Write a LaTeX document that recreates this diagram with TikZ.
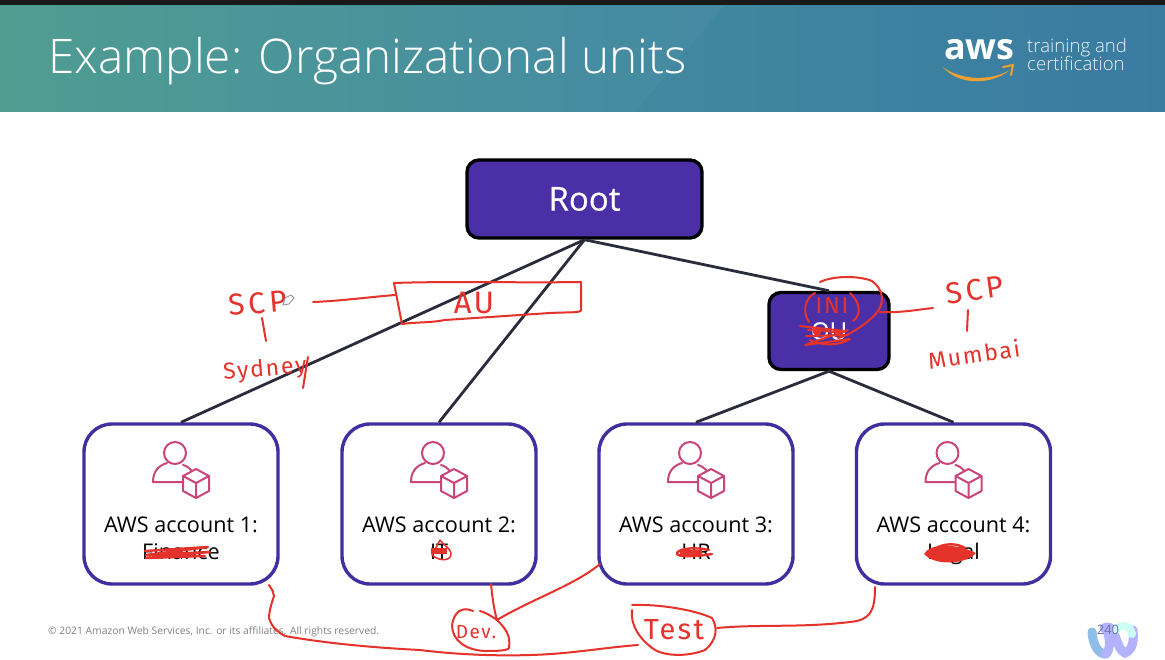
\documentclass[tikz,border=0pt]{standalone}
\usepackage{fontspec}
\setmainfont{Open Sans}
\newfontfamily\lightfont{Open Sans Light}
\newfontfamily\handfont[LetterSpace=8]{Fira Sans}
\usetikzlibrary{calc}
\definecolor{hdrL}{HTML}{4A9A8E}
\definecolor{hdrM}{HTML}{418A9E}
\definecolor{hdrR}{HTML}{3A7BA2}
\definecolor{rootfill}{HTML}{4A2FA6}
\definecolor{acct}{HTML}{3F30A0}
\definecolor{link}{HTML}{2A2C3C}
\definecolor{ink}{HTML}{E5322B}
\definecolor{icon}{HTML}{C9457A}
\definecolor{awsorange}{HTML}{F0A030}
\newcommand{\fs}[1]{\fontsize{#1}{#1}\selectfont}
\tikzset{
  darkbox/.style={draw=black,line width=3.4pt,fill=rootfill,rounded corners=12pt,text=white,inner sep=0pt},
  acctbox/.style={draw=acct,line width=3.4pt,fill=white,rounded corners=28pt,minimum width=194pt,minimum height=160pt,inner sep=0pt},
  linkline/.style={draw=link,line width=2.8pt},
  pen/.style={draw=ink,line width=2pt,line cap=round,line join=round},
  scrib/.style={draw=ink,line width=2.4pt,line cap=round,line join=round},
  hand/.style={text=ink,font=\handfont\fs{#1},inner sep=0pt},
  acctlabel/.style={font=\fs{21.6},text=black,inner sep=0pt},
  iconline/.style={draw=icon,line width=2pt,line join=round,line cap=round}
}
\newcommand{\acctIcon}[2]{%
  \begin{scope}[shift={(#1,#2)}]
    \draw[iconline] (-6,-80) circle[radius=11pt];
    \draw[iconline] (2,-68) .. controls (6,-67) and (8,-65) .. (11,-62);
    \draw[iconline] (1,-51) -- (-28,-51) .. controls (-28,-60) and (-24,-67) .. (-14,-70);
    \draw[iconline] (15,-64) -- (28,-57) -- (28,-42) -- (15,-35) -- (2,-42) -- (2,-57) -- cycle;
    \draw[iconline] (2,-57) -- (15,-50) -- (28,-57) (15,-50) -- (15,-35);
  \end{scope}}
\begin{document}
\begin{tikzpicture}[x=1pt,y=-1pt]
\useasboundingbox (0,0) rectangle (1165,660);
\fill[white] (0,0) rectangle (1165,660);
% header
\fill[black!90] (0,0) rectangle (1165,8);
\shade[left color=hdrL,right color=hdrR,middle color=hdrM] (0,6) rectangle (1165,112);
\fill[white,opacity=.03] (0,6) -- (724,6) -- (635,112) -- (0,112) -- cycle;
\node[anchor=base west,inner sep=0pt,text=white,font=\lightfont\fs{47.7}] (title) at (48,74) {Example: Organizational units};
% aws logo
\node[anchor=base west,inner sep=0pt,text=white,font=\bfseries\fs{36}] (aws) at (944,60) {aws};
\node[anchor=base west,inner sep=0pt,text=white!90!hdrR,font=\lightfont\fs{18.6}] (tr1) at (1027,53) {training and};
\node[anchor=base west,inner sep=0pt,text=white!90!hdrR,font=\lightfont\fs{18.6}] (tr2) at (1027,71) {certification};
\fill[awsorange] (943,67) .. controls (955,77) and (985,84) .. (1010,70) .. controls (990,86) and (958,85) .. (943,67) -- cycle;
\draw[awsorange,line width=2pt,line cap=round] (1003,67) -- (1013,65) -- (1011,75);
% footer
\node[anchor=base west,inner sep=0pt,text=black!50,font=\fs{10.3}] (copy) at (48,634) {© 2021 Amazon Web Services, Inc. or its affiliates. All rights reserved.};
% boxes
\node[darkbox,minimum width=235pt,minimum height=78pt,font=\fs{33}] (root) at (584.5,199) {\addfontfeature{FakeBold=0.4}Root};
\node[darkbox,minimum width=120pt,minimum height=77pt,font=\fs{24}] (ou) at (829,331) {\addfontfeature{FakeBold=0.4}OU};
\node[acctbox] (a1) at (181,504) {};
\node[acctbox] (a2) at (439,504) {};
\node[acctbox] (a3) at (696,504) {};
\node[acctbox] (a4) at (953.5,504) {};
% connectors
\draw[linkline] (root.south) -- (a1.north);
\draw[linkline] (root.south) -- (a2.north);
\draw[linkline] (root.south) -- (ou.north);
\draw[linkline] (ou.south) -- (a3.north);
\draw[linkline] (ou.south) -- (a4.north);
% icons
\acctIcon{181}{533}
\acctIcon{439}{533}
\acctIcon{696}{533}
\acctIcon{953.5}{533}
% labels
\node[acctlabel,anchor=base] (l1) at (181,532) {AWS account 1:};
\node[acctlabel,anchor=base] (l2) at (439,532) {AWS account 2:};
\node[acctlabel,anchor=base] (l3) at (696,532) {AWS account 3:};
\node[acctlabel,anchor=base] (l4) at (953.5,532) {AWS account 4:};
\node[acctlabel,anchor=base] (s1) at (181,559) {Finance};
\node[acctlabel,anchor=base] (s2) at (439,559) {IT};
\node[acctlabel,anchor=base] (s3) at (696,559) {HR};
\node[acctlabel,anchor=base] (s4) at (953.5,559) {Legal};
% scribbles over the words
\draw[scrib] (145,551) -- (208,547) -- (146,555) -- (210,552) -- (146,558) -- (205,556);
\draw[scrib,line width=1.5pt] (440,540) -- (432,555) .. controls (440,562) and (452,561) .. (451,553) .. controls (450,548) and (444,546) .. (440,540);
\fill[ink] (431,548) rectangle (447,554);
\draw[scrib] (709,550) .. controls (690,546) and (676,550) .. (677,554) .. controls (680,558) and (700,556) .. (712,554);
\fill[ink] (680,550) rectangle (702,556);
\fill[ink] (924,554) .. controls (930,543) and (955,543) .. (976,553) .. controls (965,565) and (935,566) .. (924,554) -- cycle;
\draw[scrib] (938,547) .. controls (950,542) and (960,545) .. (965,548);
% AU box and left notes
\draw[pen] (394,283) .. controls (450,281) and (520,283) .. (581,282) -- (581,310) .. controls (581,313) and (570,312) .. (550,313) -- (445,320) .. controls (430,323) and (415,322) .. (402,324) -- cycle;
\node[hand=31] (au) at (474,303) {AU};
\node[hand=30,rotate=5,font=\handfont\addfontfeature{LetterSpace=14}\fs{30}] (scpl) at (258,303) {SCP};
\node[hand=23,rotate=5] (syd) at (265,370) {Sydney};
\draw[pen] (313,302) .. controls (340,301) and (370,297) .. (395,295);
\draw[pen] (262,318) -- (266,341);
\draw[pen] (308,357) -- (303,388);
% pencil cursor
\draw[black!45,line width=.8pt,fill=white] (283,305) -- (285,298) -- (291,295) -- (294,298) -- (289,304) -- cycle;
% right notes
\node[hand=23] (ini) at (832,306) {INI};
\draw[pen] (815,293) .. controls (805,298) and (802,312) .. (809,322);
\draw[pen] (850,293) .. controls (860,302) and (862,315) .. (853,321);
\draw[pen] (820,282) .. controls (835,275) and (860,276) .. (872,281) .. controls (884,290) and (884,302) .. (878,311) .. controls (870,322) and (850,335) .. (838,338);
\draw[pen] (800,326) -- (845,331) -- (805,345) -- (850,339) .. controls (840,346) and (820,346) .. (810,340);
\draw[pen] (808,330) .. controls (820,328) and (840,336) .. (848,330);
\draw[pen] (806,336) -- (848,335);
\fill[ink] (817,331) circle[radius=4.5pt];
\draw[pen] (880,312) .. controls (900,313) and (915,310) .. (933,308);
\node[hand=30,rotate=8,font=\handfont\addfontfeature{LetterSpace=12}\fs{30}] (scpr) at (975,290) {SCP};
\draw[pen] (968,310) -- (967,331);
\node[hand=23,rotate=8] (mum) at (974,354) {Mumbai};
% bottom strokes
\draw[pen] (269,585) .. controls (272,590) and (274,592) .. (274,596) .. controls (271,605) and (269,612) .. (269,618) .. controls (272,628) and (278,632) .. (285,636) .. controls (330,644) and (380,648) .. (420,650) .. controls (460,655) and (500,656) .. (530,655) .. controls (570,654) and (600,648) .. (638,645);
\draw[pen] (491,584) .. controls (492,595) and (494,610) .. (497,620);
\draw[pen] (600,564) .. controls (575,585) and (530,600) .. (497,620);
\draw[pen] (473,611) .. controls (462,606) and (454,612) .. (452,625) .. controls (452,640) and (465,650) .. (485,651) .. controls (495,651) and (507,651) .. (509,648) .. controls (511,635) and (505,628) .. (497,620) .. controls (490,615) and (484,612) .. (480,611);
\node[hand=19] (dev) at (476,632) {Dev.};
\draw[pen] (632,605) .. controls (660,604) and (695,610) .. (712,618) .. controls (718,628) and (717,640) .. (705,650) .. controls (690,656) and (668,657) .. (655,650) .. controls (640,640) and (630,625) .. (632,610);
\node[hand=29] (test) at (674,630) {Test};
\draw[pen] (717,628) .. controls (760,624) and (800,628) .. (850,622) .. controls (870,620) and (875,612) .. (875,587);
% webex logo
\begin{scope}[line cap=round]
\draw[line width=9pt,color=cyan!35!white!85!blue] (1092,632) .. controls (1093,645) and (1098,654) .. (1106,654);
\draw[line width=9pt,color=blue!30!white] (1105,654) .. controls (1112,652) and (1110,630) .. (1104,628);
\draw[line width=9pt,color=blue!30!white] (1106,627) .. controls (1116,625) and (1116,650) .. (1125,653) .. controls (1133,650) and (1134,640) .. (1133,630);
\draw[line width=8pt,color=green!22!cyan!20!white] (1116,630) .. controls (1120,624) and (1130,624) .. (1132,634);
\end{scope}
\node[inner sep=0pt,text=blue!40!black!55,font=\fs{13}] (pg) at (1108,630) {240};
\end{tikzpicture}
\end{document}
